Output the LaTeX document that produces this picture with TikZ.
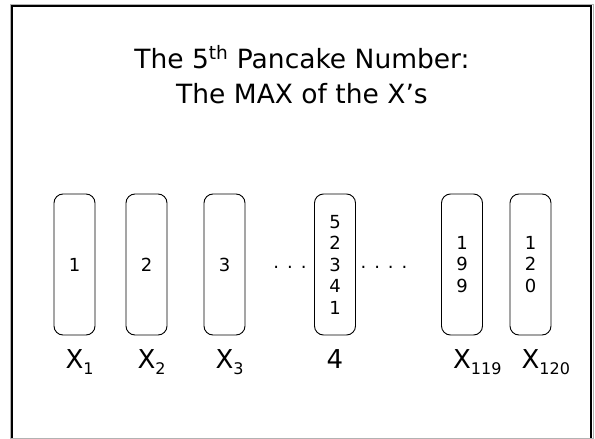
\documentclass[tikz,border=0pt]{standalone}
\usepackage{fontspec}
\setmainfont{DejaVu Sans}
\usepackage{tikz}
\usetikzlibrary{shapes}

\begin{document}
\begin{tikzpicture}[x=1pt,y=-1pt]
    \newcommand{\xsub}[1]{X\rlap{\raisebox{-6pt}{\fontsize{16}{16}\selectfont #1}}}
    \tikzstyle{frame} = [line width=2pt,draw=black]
    \tikzstyle{title} = [font=\fontsize{26.5}{35}\selectfont,align=center]
    \tikzstyle{stack}=[
      draw=black,
      line width=0.9pt,
      rounded corners=9pt,
      minimum width=41pt,
      minimum height=141pt,
      align=center,
      inner sep=0pt,
      font=\fontsize{18}{21.5}\selectfont,
    ]
    \tikzstyle{xlab} = [anchor=base,font=\fontsize{26}{30}\selectfont]
    \tikzstyle{gap} = [anchor=base,font=\fontsize{18}{20}\selectfont]

    \useasboundingbox (0,0) rectangle (595,439);
    \draw[gray!60] (10,4) rectangle (593,438);
    \draw[frame] (12,438) -- (12,6) -- (591,6) -- (591,438);

    \node[title] (head) at (302,75) {The 5\textsuperscript{th} Pancake Number:\\The MAX of the X's};

    \node[stack] (s1) at (74.5,264.5) {1};
    \node[stack] (s2) at (146.5,264.5) {2};
    \node[stack] (s3) at (224.5,264.5) {3};
    \node[stack] (s4) at (335,264.5) {5\\2\\3\\4\\1};
    \node[stack] (s119) at (462,264.5) {1\\9\\9};
    \node[stack] (s120) at (530.5,264.5) {1\\2\\0};

    \node[gap] (dl) at (290,268) {.\hspace{8pt}.\hspace{8pt}.};
    \node[gap] (dr) at (384,268) {.\hspace{8pt}.\hspace{8pt}.\hspace{8pt}.};

    \node[xlab] (x1) at (s1.center |- 0,368) {\xsub{1}};
    \node[xlab] (x2) at (s2.center |- 0,368) {\xsub{2}};
    \node[xlab] (x3) at (s3.center |- 0,368) {\xsub{3}};
    \node[xlab] (x4) at (s4.center |- 0,368) {4};
    \node[xlab] (x119) at (s119.center |- 0,368) {\xsub{119}};
    \node[xlab] (x120) at (s120.center |- 0,368) {\xsub{120}};
\end{tikzpicture}
\end{document}
